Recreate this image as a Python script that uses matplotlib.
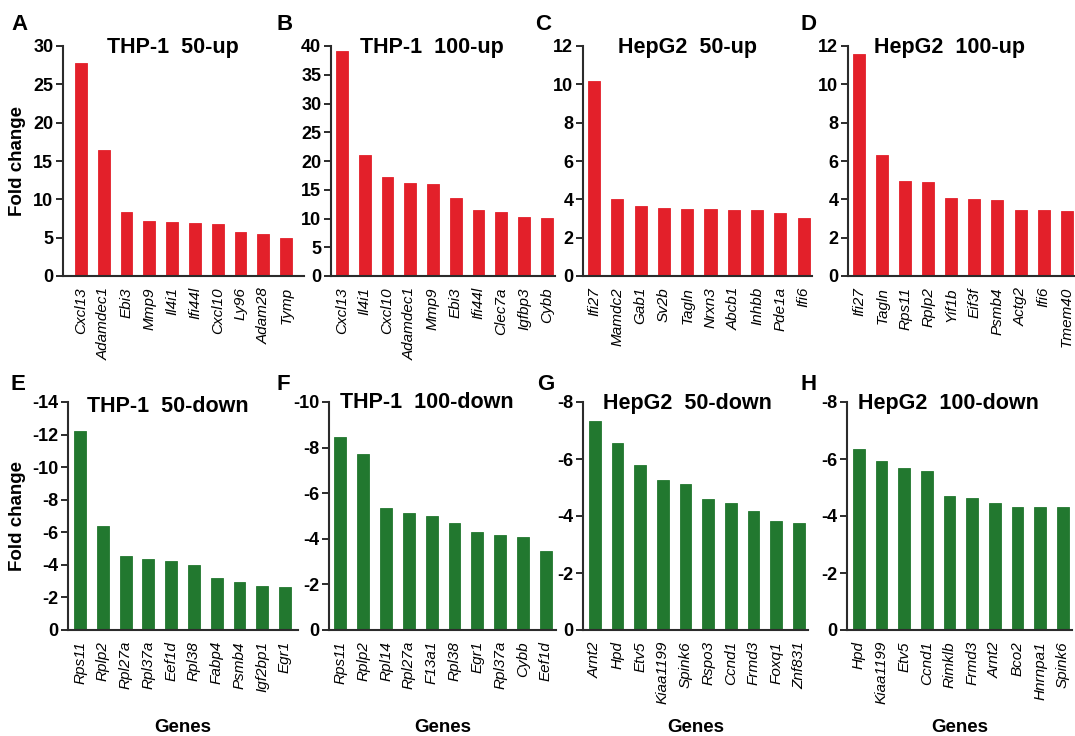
import matplotlib.pyplot as plt

# =====================================================
# Data (fold change)
# =====================================================

genes_a = ['Cxcl13', 'Adamdec1', 'Ebi3', 'Mmp9', 'Il4i1', 'Ifi44l', 'Cxcl10', 'Ly96', 'Adam28', 'Tymp']
fc_a = [27.8, 16.5, 8.4, 7.2, 7.1, 6.9, 6.8, 5.8, 5.5, 5.0]

genes_b = ['Cxcl13', 'Il4i1', 'Cxcl10', 'Adamdec1', 'Mmp9', 'Ebi3', 'Ifi44l', 'Clec7a', 'Igfbp3', 'Cybb']
fc_b = [39.1, 21.0, 17.3, 16.2, 16.0, 13.6, 11.5, 11.2, 10.2, 10.1]

genes_c = ['Ifi27', 'Mamdc2', 'Gab1', 'Sv2b', 'Tagln', 'Nrxn3', 'Abcb1', 'Inhbb', 'Pde1a', 'Ifi6']
fc_c = [10.2, 4.0, 3.66, 3.56, 3.51, 3.48, 3.46, 3.42, 3.28, 3.02]

genes_d = ['Ifi27', 'Tagln', 'Rps11', 'Rplp2', 'Yif1b', 'Eif3f', 'Psmb4', 'Actg2', 'Ifi6', 'Tmem40']
fc_d = [11.6, 6.3, 4.97, 4.89, 4.08, 4.01, 3.98, 3.46, 3.46, 3.39]

genes_e = ['Rps11', 'Rplp2', 'Rpl27a', 'Rpl37a', 'Eef1d', 'Rpl38', 'Fabp4', 'Psmb4', 'Igf2bp1', 'Egr1']
fc_e = [-12.2, -6.36, -4.53, -4.38, -4.22, -3.97, -3.17, -2.96, -2.72, -2.67]

genes_f = ['Rps11', 'Rplp2', 'Rpl14', 'Rpl27a', 'F13a1', 'Rpl38', 'Egr1', 'Rpl37a', 'Cybb', 'Eef1d']
fc_f = [-8.45, -7.70, -5.33, -5.15, -5.02, -4.68, -4.32, -4.17, -4.06, -3.47]

genes_g = ['Arnt2', 'Hpd', 'Etv5', 'Kiaa1199', 'Spink6', 'Rspo3', 'Ccnd1', 'Frmd3', 'Foxq1', 'Znf831']
fc_g = [-7.32, -6.55, -5.78, -5.27, -5.12, -4.60, -4.45, -4.16, -3.82, -3.75]

genes_h = ['Hpd', 'Kiaa1199', 'Etv5', 'Ccnd1', 'Rimklb', 'Frmd3', 'Arnt2', 'Bco2', 'Hnrnpa1', 'Spink6']
fc_h = [-6.36, -5.94, -5.67, -5.57, -4.70, -4.62, -4.45, -4.33, -4.33, -4.32]

titles = ['THP-1  50-up', 'THP-1  100-up', 'HepG2  50-up', 'HepG2  100-up',
          'THP-1  50-down', 'THP-1  100-down', 'HepG2  50-down', 'HepG2  100-down']
letters = ['A', 'B', 'C', 'D', 'E', 'F', 'G', 'H']
y_max = [30, 40, 12, 12, -14, -10, -8, -8]
y_step = [5, 5, 2, 2, 2, 2, 2, 2]

# =====================================================
# Style
# =====================================================

plt.rcParams['font.family'] = ['Liberation Sans', 'DejaVu Sans']
plt.rcParams['axes.unicode_minus'] = False

RED = '#E3202A'
GREEN = '#22782F'
AXIS = '#2b2b2b'

W, H = 1075, 736
fig = plt.figure(figsize=(W / 100, H / 100), dpi=100)


def fx(x):
    return x / W


def fy(y):
    return 1 - y / H


# layout in pixels: (left, top, right, bottom), xlim, title x, title y, letter x, letter y
layout = [
    (63, 46, 304, 276, (-0.78, 9.78), 107, 48, 11, 24),
    (331, 46, 555, 276, (-0.48, 9.36), 360, 48, 277, 24),
    (583, 46, 812, 276, (-0.48, 9.36), 618, 48, 535, 24),
    (848, 46, 1075, 276, (-0.48, 9.36), 874, 48, 800, 24),
    (68, 402, 298, 630, (-0.53, 9.57), 87, 407, 11, 385),
    (329, 402, 556, 630, (-0.5, 9.45), 340, 403, 277, 385),
    (583, 402, 808, 630, (-0.52, 9.4), 603, 403, 537, 385),
    (847, 402, 1072, 630, (-0.52, 9.4), 858, 403, 800, 385),
]

all_genes = [genes_a, genes_b, genes_c, genes_d, genes_e, genes_f, genes_g, genes_h]
all_fc = [fc_a, fc_b, fc_c, fc_d, fc_e, fc_f, fc_g, fc_h]

# =====================================================
# Panels
# =====================================================

for i in range(8):
    l, t, r, b, xlim, tx, ty, lx, ly = layout[i]
    ax = fig.add_axes([fx(l), fy(b), fx(r) - fx(l), (b - t) / H])

    color = RED if i < 4 else GREEN
    x = list(range(len(all_genes[i])))
    ax.bar(x, all_fc[i], width=0.52, color=color,
           edgecolor=color, linewidth=0.6)

    ax.set_xlim(*xlim)
    ax.set_ylim(0, y_max[i])
    step = y_step[i] if y_max[i] > 0 else -y_step[i]
    ax.set_yticks(list(range(0, y_max[i] + step, step)))

    ax.set_xticks(x)
    ax.set_xticklabels(all_genes[i], rotation=90, fontstyle='italic',
                       fontsize=11, va='top', ha='center')
    ax.tick_params(axis='x', length=0, pad=8)
    ax.tick_params(axis='y', length=5, width=1.4, pad=2,
                   labelsize=13, color=AXIS, direction='out')
    for lab in ax.get_yticklabels():
        lab.set_fontweight('bold')

    for s in ['top', 'right']:
        ax.spines[s].set_visible(False)
    for s in ['left', 'bottom']:
        ax.spines[s].set_color(AXIS)
        ax.spines[s].set_linewidth(1.5)

    fig.text(fx(tx), fy(ty), titles[i], fontsize=15.5, fontweight='bold',
             ha='left', va='center')
    fig.text(fx(lx), fy(ly), letters[i], fontsize=16, fontweight='bold',
             ha='left', va='center')

    if i in (0, 4):
        fig.text(fx(18), fy((t + b) / 2), 'Fold change', rotation=90,
                 fontsize=13.5, fontweight='bold', ha='center', va='center')
    if i >= 4:
        fig.text(fx((l + r) / 2), fy(727), 'Genes', fontsize=13.5,
                 fontweight='bold', ha='center', va='center')

plt.savefig('out.png', dpi=100)
